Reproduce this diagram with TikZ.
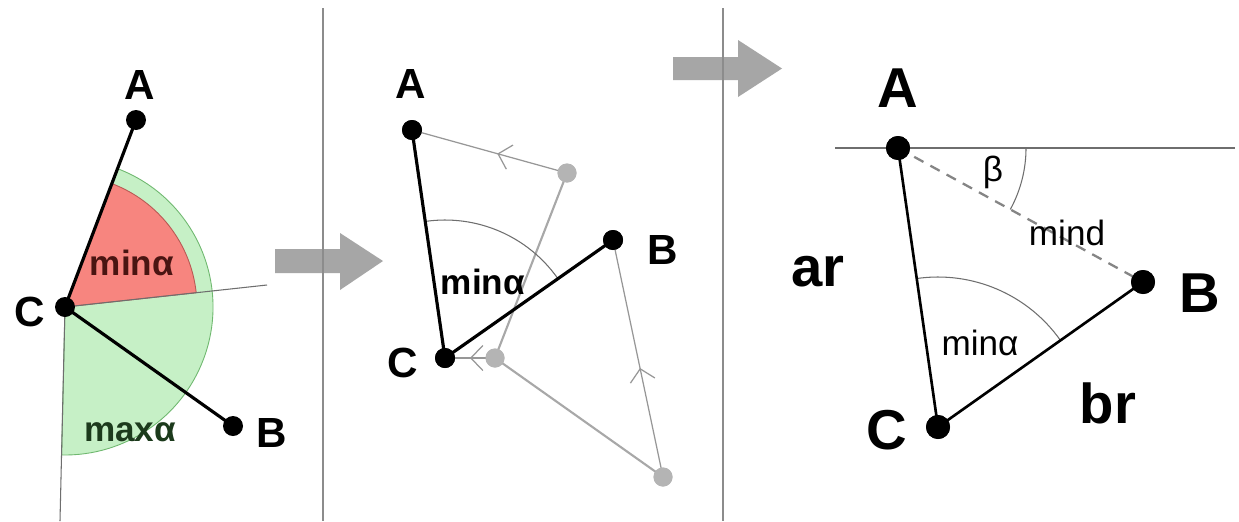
\documentclass[tikz,border=0pt]{standalone}
\usepackage{fontspec}
\setmainfont{Liberation Sans}
\usetikzlibrary{arrows.meta,decorations.markings}
\definecolor{sectorgreen}{HTML}{C6F0C6}
\definecolor{sectorgreenedge}{HTML}{6FB86F}
\definecolor{sectorred}{HTML}{F7857F}
\definecolor{sectorrededge}{HTML}{B85A55}
\definecolor{linegray}{HTML}{6E6E6E}
\definecolor{dashgray}{HTML}{858585}
\definecolor{divgray}{HTML}{8C8C8C}
\definecolor{pathgray}{HTML}{A8A8A8}
\definecolor{dotgray}{HTML}{B4B4B4}
\definecolor{arrowgray}{HTML}{A6A6A6}
\definecolor{redtext}{HTML}{4A1512}
\definecolor{greentext}{HTML}{1C3A1C}
\tikzset{
  dot/.style={circle, fill=black, inner sep=0pt, minimum size=0.4cm},
  bigdot/.style={dot, minimum size=0.48cm},
  graydot/.style={circle, fill=dotgray, inner sep=0pt, minimum size=0.38cm},
  lbl/.style={font=\bfseries\fontsize{24}{24}\selectfont, inner sep=0pt},
  biglbl/.style={font=\bfseries\fontsize{32}{32}\selectfont, inner sep=0pt},
  smalllbl/.style={font=\fontsize{20}{20}\selectfont, inner sep=0pt},
  smallbold/.style={font=\bfseries\fontsize{20}{20}\selectfont, inner sep=0pt},
  thickline/.style={line width=1.8pt, black},
  midthick/.style={line width=1.5pt, black},
  thinline/.style={line width=0.6pt, linegray},
  grayline/.style={line width=1.2pt, pathgray},
  thingray/.style={line width=0.7pt, pathgray!90!black},
  divider/.style={line width=0.9pt, divgray},
  dashline/.style={line width=1.3pt, dashgray, dash pattern=on 6pt off 4.5pt},
  blockarrow/.style={fill=arrowgray},
  midchev/.style={postaction={decorate}, decoration={markings,
      mark=at position #1 with {\arrow{Straight Barb[length=0.24cm,width=0.5cm]}}}},
}
\begin{document}
\begin{tikzpicture}[x=0.02cm, y=0.02cm]
\useasboundingbox (0,0) rectangle (1239,-521);
\fill[white] (0,0) rectangle (1239,-521);

% ---------------- Panel 1 ----------------
\coordinate (C1) at (65,-307);
\coordinate (R1) at (267,-285);
\coordinate (D1) at (60,-521);
\fill[sectorgreen, draw=sectorgreenedge, line width=0.5pt]
  (C1) -- ++(69.2:148) arc[start angle=69.2, end angle=-91.3, radius=148] -- cycle;
\fill[sectorred, draw=sectorrededge, line width=0.5pt]
  (C1) -- ++(69.2:132) arc[start angle=69.2, end angle=6.2, radius=132] -- cycle;
\draw[thinline] (C1) -- (R1);
\draw[thinline] (C1) -- (D1);
\node[dot] (A1) at (136,-120) {};
\node[dot] (B1) at (233,-426) {};
\node[dot] (Cd1) at (C1) {};
\draw[thickline] (Cd1.center) -- (A1.center);
\draw[thickline] (Cd1.center) -- (B1.center);
\node[lbl] (lA1) at (140,-85) {A};
\node[lbl] (lC1) at (30,-312) {C};
\node[lbl] (lB1) at (272,-433) {B};
\node[smallbold, text=redtext] (lmin1) at (132,-263) {minα};
\node[smallbold, text=greentext] (lmax1) at (130,-432) {maxα};

% ---------------- Arrows ----------------
\fill[blockarrow] (275,-249) -- (340,-249) -- (340,-233) -- (383,-261)
  -- (340,-290) -- (340,-273) -- (275,-273) -- cycle;
\fill[blockarrow] (673,-57) -- (738,-57) -- (738,-40) -- (782,-68.5)
  -- (738,-97) -- (738,-80) -- (673,-80) -- cycle;

% ---------------- Dividers ----------------
\coordinate (V1t) at (323,-8);
\coordinate (V1b) at (323,-521);
\coordinate (V2t) at (723,-8);
\coordinate (V2b) at (723,-521);
\draw[divider] (V1t) -- (V1b);
\draw[divider] (V2t) -- (V2b);

% ---------------- Panel 2 ----------------
\node[dot] (A2) at (412,-130) {};
\node[dot] (C2) at (445,-358) {};
\node[dot] (B2) at (613,-240) {};
\node[graydot] (G1) at (567,-173) {};
\node[graydot] (G2) at (495,-358) {};
\node[graydot] (G3) at (663,-477) {};
\draw[grayline] (G1.center) -- (G2.center);
\draw[grayline] (G2.center) -- (G3.center);
\draw[thingray, midchev=0.45] (G1.center) -- (A2.center);
\draw[thingray, midchev=0.5] (G2.center) -- (C2.center);
\draw[thingray, midchev=0.46] (G3.center) -- (B2.center);
\node[graydot] at (G1) {};
\node[graydot] at (G2) {};
\node[graydot] at (G3) {};
\draw[thinline] (C2.center) ++(35.1:138) arc[start angle=35.1, end angle=98.2, radius=138];
\draw[thickline] (C2.center) -- (A2.center);
\draw[thickline] (C2.center) -- (B2.center);
\node[dot] at (A2) {};
\node[dot] at (C2) {};
\node[dot] at (B2) {};
\node[lbl] (lA2) at (411,-84) {A};
\node[lbl] (lC2) at (403,-363) {C};
\node[lbl] (lB2) at (663,-250) {B};
\node[smallbold] (lmin2) at (483,-282) {minα};

% ---------------- Panel 3 ----------------
\coordinate (H1) at (835,-148);
\coordinate (H2) at (1235,-148);
\node[bigdot] (A3) at (898,-148) {};
\node[bigdot] (C3) at (938,-427) {};
\node[bigdot] (B3) at (1143,-282) {};
\draw[thinline] (H1) -- (H2);
\draw[dashline] (A3.center) -- (B3.center);
\draw[thinline] (A3.center) ++(0:128) arc[start angle=0, end angle=-28.7, radius=128];
\draw[thinline] (C3.center) ++(35.3:150) arc[start angle=35.3, end angle=98.2, radius=150];
\draw[midthick] (C3.center) -- (A3.center);
\draw[midthick] (C3.center) -- (B3.center);
\node[bigdot] at (A3) {};
\node[bigdot] at (C3) {};
\node[bigdot] at (B3) {};
\node[biglbl] (lA3) at (898,-88) {A};
\node[biglbl] (lC3) at (887,-430) {C};
\node[biglbl] (lB3) at (1200,-293) {B};
\node[biglbl] (lar) at (818,-272) {ar};
\node[biglbl] (lbr) at (1108,-403) {br};
\node[smalllbl] (lbeta) at (993,-172) {β};
\node[smalllbl] (lmind) at (1067,-233) {mind};
\node[smalllbl] (lmin3) at (980,-343) {minα};
\end{tikzpicture}
\end{document}
